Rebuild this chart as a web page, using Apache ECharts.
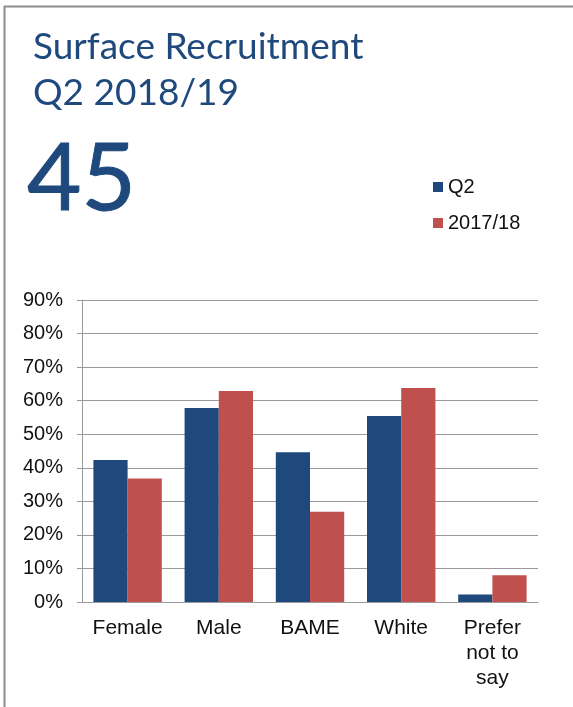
<!DOCTYPE html>
<html>
<head>
<meta charset="utf-8">
<script src="https://cdn.jsdelivr.net/npm/echarts@6/dist/echarts.min.js"></script>
<style>
  html, body { margin: 0; padding: 0; background: #fff; }
  #chart { width: 573px; height: 707px; }
</style>
</head>
<body>
<div id="chart"></div>
<script>
// chart data
var titleText = 'Surface Recruitment\nQ2 2018/19';
var headlineNum = '45';
var categories = ['Female', 'Male', 'BAME', 'White', 'Prefer\nnot to\nsay'];
var seriesNames = ['Q2', '2017/18'];
var q2Values = [42.3, 57.8, 44.6, 55.4, 2.2];
var prevValues = [36.8, 62.9, 26.9, 63.8, 8.0];
var yMax = 90;
var yStep = 10;

var navy = '#1f497d';
var red = '#c0504d';
var grey = '#9a9a9a';

var myChart = echarts.init(document.getElementById('chart'));

var option = {
  backgroundColor: '#fff',
  animation: false,
  title: [{
    text: titleText,
    left: 28,
    top: 19,
    textStyle: {
      fontFamily: 'Lato',
      fontWeight: 'normal',
      fontSize: 37,
      lineHeight: 46,
      color: navy
    }
  }, {
    text: headlineNum,
    left: 22,
    top: 127,
    textStyle: {
      fontFamily: 'Lato',
      fontWeight: 'normal',
      fontSize: 94,
      lineHeight: 96,
      color: navy,
      textBorderColor: navy,
      textBorderWidth: 1
    }
  }],
  legend: {
    orient: 'vertical',
    left: 428,
    top: 172,
    itemWidth: 10,
    itemHeight: 10,
    itemGap: 16,
    icon: 'rect',
    data: seriesNames,
    textStyle: {
      fontFamily: 'Liberation Sans',
      fontSize: 20,
      lineHeight: 20,
      color: '#111'
    }
  },
  grid: {
    left: 82,
    right: 35,
    top: 300,
    bottom: 105
  },
  xAxis: {
    type: 'category',
    data: categories,
    axisLine: { lineStyle: { color: grey, width: 1 } },
    axisTick: { show: false },
    axisLabel: {
      margin: 14,
      interval: 0,
      fontFamily: 'Liberation Sans',
      fontSize: 21,
      lineHeight: 25,
      color: '#111'
    }
  },
  yAxis: {
    type: 'value',
    min: 0,
    max: yMax,
    interval: yStep,
    axisLine: { show: true, lineStyle: { color: grey, width: 1 } },
    axisTick: { show: true, length: 5, lineStyle: { color: grey } },
    splitLine: { lineStyle: { color: grey, width: 1 } },
    axisLabel: {
      formatter: '{value}%',
      margin: 19,
      fontFamily: 'Liberation Sans',
      fontSize: 20,
      color: '#111'
    }
  },
  series: [{
    name: seriesNames[0],
    type: 'bar',
    data: q2Values,
    barGap: '0%',
    barCategoryGap: '25%',
    itemStyle: { color: navy }
  }, {
    name: seriesNames[1],
    type: 'bar',
    data: prevValues,
    barGap: '0%',
    barCategoryGap: '25%',
    itemStyle: { color: red }
  }],
  graphic: [{
    type: 'line',
    shape: { x1: 4.5, y1: 6, x2: 4.5, y2: 707 },
    style: { stroke: '#8c8c8c', lineWidth: 2 }
  }, {
    type: 'line',
    shape: { x1: 4, y1: 6.5, x2: 573, y2: 6.5 },
    style: { stroke: '#8c8c8c', lineWidth: 2 }
  }]
};

myChart.setOption(option);
</script>
</body>
</html>
